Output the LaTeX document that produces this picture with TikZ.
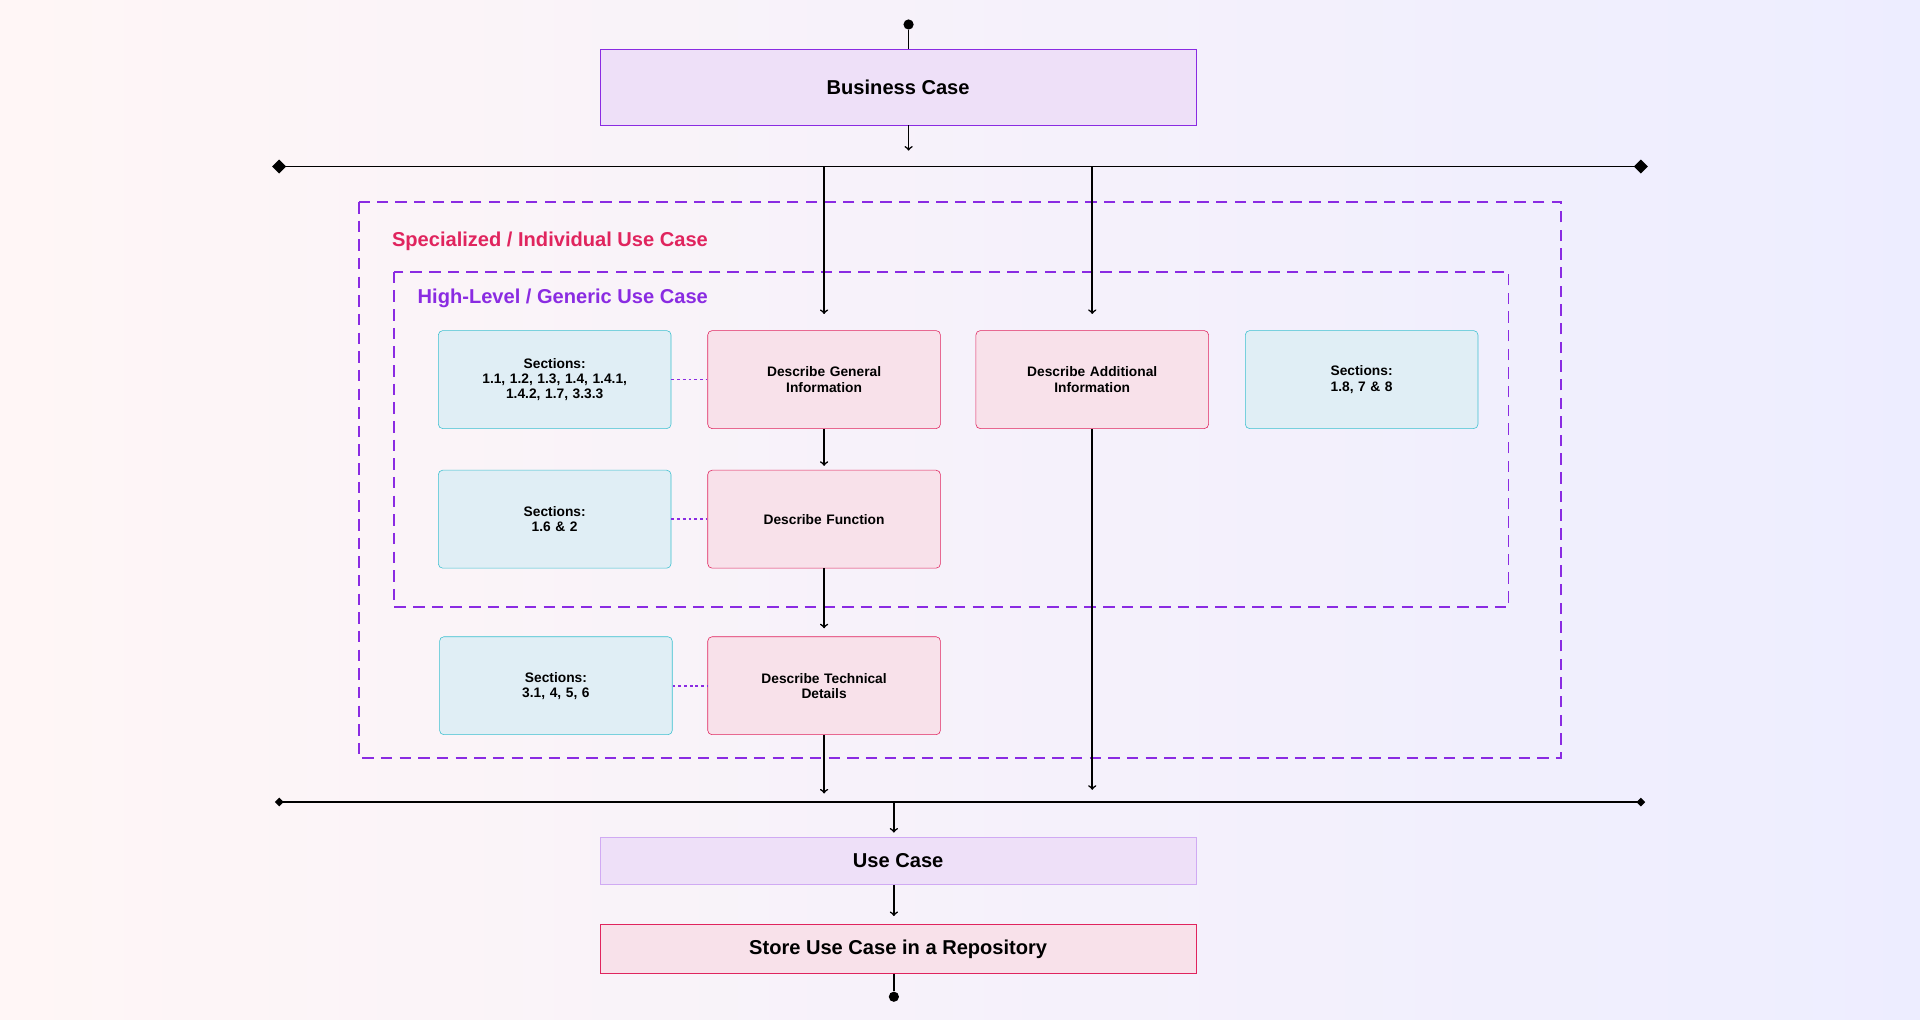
\documentclass[tikz,border=0pt]{standalone}
\usepackage{fontspec}
\setmainfont{Liberation Sans}
\usetikzlibrary{shapes.geometric, arrows}
\definecolor{purp}{HTML}{8A2BE2}
\definecolor{crim}{HTML}{E0245E}
\definecolor{lav}{HTML}{EEE0F8}
\definecolor{pinkbox}{HTML}{F8E1EA}
\definecolor{cyanbox}{HTML}{E0EEF5}
\definecolor{cyanline}{HTML}{3CC0D0}
\tikzstyle{sec} = [rectangle, rounded corners=3pt, minimum width=57mm, minimum height=24mm, text width=52mm, align=center, draw=cyanline, fill=cyanbox, font=\bfseries\fontsize{9.6}{10.5}\selectfont]
\tikzstyle{task} = [rectangle, rounded corners=3pt, minimum width=57mm, minimum height=24mm, text width=52mm, align=center, draw=crim, fill=pinkbox, font=\bfseries\fontsize{9.6}{10.5}\selectfont]
\tikzstyle{wide} = [rectangle, minimum width=146.1mm, text centered, font=\bfseries\fontsize{14}{16}\selectfont]
\tikzstyle{arrow} = [line width=1.1pt,->,>=to]
\tikzstyle{link} = [line width=1.1pt,purp,dash pattern=on 2pt off 2pt]
\tikzstyle{frame} = [very thick,purp,dash pattern=on 8pt off 5pt]
\tikzstyle{bigdot}=[shape=circle,minimum size=2.5mm,inner sep=0,fill=black]
\begin{document}
\begin{tikzpicture}[x=0.3mm,y=-0.3mm]
\shade[left color=pink!14,right color=blue!7] (0,0) rectangle (1568,833);
\useasboundingbox (0,0) rectangle (1568,833);

% top
\node[bigdot] (start) at (742,20) {};
\node[wide,minimum height=18.6mm,draw=purp,fill=lav] (bc) at (733.5,71) {Business Case};
\draw[line width=1.1pt] (start) -- (bc.north -| start);
\coordinate (bar1l) at (228,136);
\coordinate (bar1r) at (1340,136);
\draw[line width=1.3pt] (bar1l) -- (bar1r);
\foreach \p in {bar1l,bar1r}
	\node[diamond,fill=black,inner sep=0,minimum size=3.5mm] at (\p) {};
\draw[arrow] (bc.south -| start) -- (742,123);

% frames
\draw[frame] (293,165) rectangle (1275,619);
\draw[frame] (322,222) rectangle (1232,496);
\node[anchor=west,text=crim,font=\bfseries\fontsize{14}{16}\selectfont] (spec) at (316,197) {Specialized / Individual Use Case};
\node[anchor=west,text=purp,font=\bfseries\fontsize{14}{16}\selectfont] (high) at (337,244) {High-Level / Generic Use Case};

% boxes
\node[sec] (s1) at (453,310) {Sections:\\1.1, 1.2, 1.3, 1.4, 1.4.1,\\1.4.2, 1.7, 3.3.3};
\node[task] (gen) at (673,310) {Describe General\\Information};
\node[task] (add) at (892,310) {Describe Additional\\Information};
\node[sec] (s4) at (1112,310) {Sections:\\1.8, 7 \& 8};
\node[sec] (s2) at (453,424) {Sections:\\1.6 \& 2};
\node[task] (fun) at (673,424) {Describe Function};
\node[sec] (s3) at (454,560) {Sections:\\3.1, 4, 5, 6};
\node[task] (tech) at (673,560) {Describe Technical\\Details};
\foreach \a/\b in {s1/gen,s2/fun,s3/tech}
	\draw[link] (\a) -- (\b);

% flow
\draw[arrow] (gen.north |- bar1l) -- ([yshift=4mm]gen.north);
\draw[arrow] (add.north |- bar1l) -- ([yshift=4mm]add.north);
\draw[arrow] (gen) -- ([yshift=1mm]fun.north);
\draw[arrow] (fun) -- ([yshift=2mm]tech.north);
\coordinate (bar2l) at (228,655);
\coordinate (bar2r) at (1340,655);
\draw[arrow] (tech) -- (673,648);
\draw[arrow] (add) -- (892,645);
\draw[line width=1.3pt] (bar2l) -- (bar2r);
\foreach \p in {bar2l,bar2r}
	\node[diamond,fill=black,inner sep=0,minimum size=2.2mm] at (\p) {};

% bottom
\node[wide,minimum height=11.7mm,draw=purp!40,fill=lav] (uc) at (733.5,703) {Use Case};
\node[wide,minimum height=12mm,draw=crim,fill=pinkbox] (store) at (733.5,775) {Store Use Case in a Repository};
\node[bigdot] (end) at (730,814) {};
\draw[arrow] (730,655) -- ([yshift=1mm]uc.north -| end);
\draw[arrow] (uc.south -| end) -- ([yshift=2mm]store.north -| end);
\draw[line width=1.1pt] (store.south -| end) -- (end);
\end{tikzpicture}
\end{document}
